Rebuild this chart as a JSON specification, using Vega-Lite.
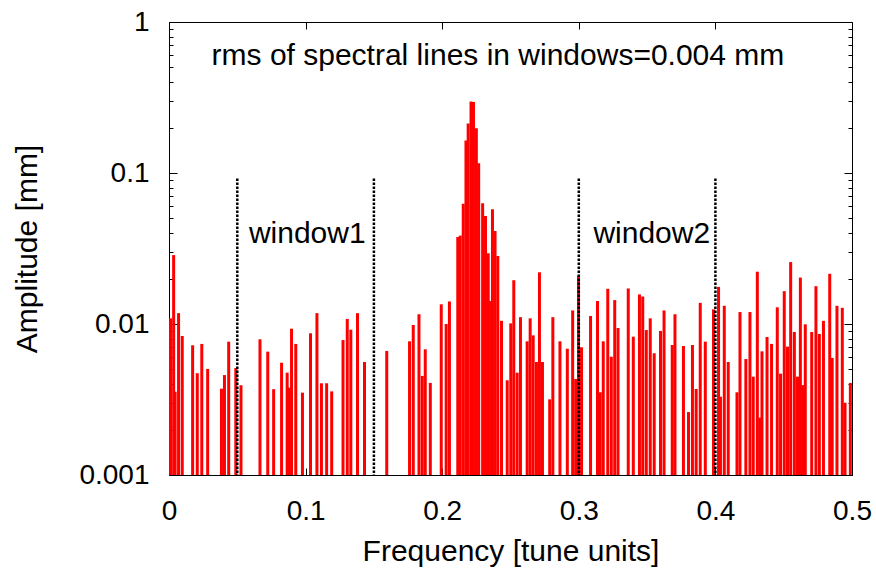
{
  "$schema": "https://vega.github.io/schema/vega-lite/v6.json",
  "width": 683,
  "height": 453,
  "autosize": {"type": "none"},
  "padding": {"left": 169, "top": 22, "right": 24, "bottom": 93},
  "background": "white",
  "config": {
    "font": "Liberation Sans",
    "view": {"stroke": "black", "strokeWidth": 1},
    "axis": {
      "domain": false,
      "grid": false,
      "tickColor": "black",
      "tickWidth": 1,
      "labelColor": "black",
      "labelFontSize": 28,
      "labelFont": "Liberation Sans",
      "titleFont": "Liberation Sans",
      "titleFontSize": 30,
      "titleFontWeight": "normal",
      "titleColor": "black",
      "labelFlush": false,
      "labelOverlap": false
    }
  },
  "datasets": {
    "bars": [
      {"f":0.0011,"v":0.0109},{"f":0.0034,"v":0.0286},{"f":0.0045,"v":0.00356},{"f":0.0070,"v":0.0118},{"f":0.0097,"v":0.00833},
      {"f":0.0173,"v":0.00723},{"f":0.0207,"v":0.00472},{"f":0.0240,"v":0.00738},{"f":0.0283,"v":0.00504},{"f":0.0384,"v":0.00373},
      {"f":0.0406,"v":0.00459},{"f":0.0437,"v":0.00764},{"f":0.0489,"v":0.00511},{"f":0.0527,"v":0.00393},{"f":0.0666,"v":0.00792},
      {"f":0.0723,"v":0.00656},{"f":0.0766,"v":0.0037},{"f":0.0824,"v":0.00554},{"f":0.0865,"v":0.00476},{"f":0.0881,"v":0.00379},
      {"f":0.0897,"v":0.00931},{"f":0.0928,"v":0.00738},{"f":0.0977,"v":0.00351},{"f":0.1036,"v":0.00868},{"f":0.1083,"v":0.0118},
      {"f":0.1116,"v":0.00405},{"f":0.1154,"v":0.00405},{"f":0.1191,"v":0.00358},{"f":0.1274,"v":0.00783},{"f":0.1305,"v":0.0108},
      {"f":0.1331,"v":0.00917},{"f":0.138,"v":0.0118},{"f":0.1431,"v":0.0056},{"f":0.1594,"v":0.00663},{"f":0.1761,"v":0.00768},
      {"f":0.1788,"v":0.00985},{"f":0.183,"v":0.0116},{"f":0.1854,"v":0.00453},{"f":0.1876,"v":0.0068},{"f":0.1913,"v":0.00407},
      {"f":0.1993,"v":0.0135},{"f":0.2029,"v":0.01},{"f":0.2053,"v":0.0141},{"f":0.2114,"v":0.0377},{"f":0.2132,"v":0.0385},
      {"f":0.2154,"v":0.0626},{"f":0.2174,"v":0.164},{"f":0.219,"v":0.213},{"f":0.2211,"v":0.297},{"f":0.2229,"v":0.295},
      {"f":0.225,"v":0.198},{"f":0.2267,"v":0.116},{"f":0.2296,"v":0.063},{"f":0.2317,"v":0.0519},{"f":0.2337,"v":0.0294},
      {"f":0.2354,"v":0.0142},{"f":0.2368,"v":0.0575},{"f":0.2387,"v":0.0413},{"f":0.2407,"v":0.0282},{"f":0.2434,"v":0.0105},
      {"f":0.2476,"v":0.00424},{"f":0.2502,"v":0.0101},{"f":0.2524,"v":0.0195},{"f":0.2549,"v":0.00476},{"f":0.2573,"v":0.0111},
      {"f":0.2622,"v":0.00768},{"f":0.2644,"v":0.0109},{"f":0.2666,"v":0.00841},{"f":0.269,"v":0.0056},{"f":0.2712,"v":0.022},
      {"f":0.2734,"v":0.0056},{"f":0.2787,"v":0.00317},{"f":0.281,"v":0.0111},{"f":0.2862,"v":0.00768},{"f":0.2916,"v":0.00686},
      {"f":0.2955,"v":0.0123},{"f":0.2977,"v":0.00432},{"f":0.2998,"v":0.0209},{"f":0.302,"v":0.00701},{"f":0.3086,"v":0.0113},
      {"f":0.3137,"v":0.0142},{"f":0.3157,"v":0.00353},{"f":0.3179,"v":0.00768},{"f":0.3212,"v":0.0171},{"f":0.3238,"v":0.00607},
      {"f":0.3263,"v":0.0144},{"f":0.3287,"v":0.00941},{"f":0.3362,"v":0.0172},{"f":0.3399,"v":0.00824},{"f":0.3444,"v":0.0157},
      {"f":0.3468,"v":0.0152},{"f":0.3494,"v":0.00912},{"f":0.3523,"v":0.0109},{"f":0.3552,"v":0.0064},{"f":0.3598,"v":0.00899},
      {"f":0.3624,"v":0.0123},{"f":0.3684,"v":0.00726},{"f":0.3704,"v":0.0116},{"f":0.3766,"v":0.00715},{"f":0.3803,"v":0.00261},
      {"f":0.3832,"v":0.00726},{"f":0.3859,"v":0.00371},{"f":0.3889,"v":0.0138},{"f":0.3926,"v":0.00764},{"f":0.3986,"v":0.0125},
      {"f":0.4023,"v":0.0176},{"f":0.4037,"v":0.0033},{"f":0.4065,"v":0.0132},{"f":0.4094,"v":0.0056},{"f":0.4158,"v":0.00353},
      {"f":0.418,"v":0.012},{"f":0.4223,"v":0.00586},{"f":0.4253,"v":0.012},{"f":0.4277,"v":0.00448},{"f":0.4307,"v":0.0222},
      {"f":0.4325,"v":0.0024},{"f":0.4341,"v":0.00659},{"f":0.4378,"v":0.0082},{"f":0.4411,"v":0.00738},{"f":0.4453,"v":0.0129},
      {"f":0.4477,"v":0.00469},{"f":0.4504,"v":0.0165},{"f":0.4528,"v":0.00708},{"f":0.4551,"v":0.0257},{"f":0.4578,"v":0.00885},
      {"f":0.4601,"v":0.00448},{"f":0.4622,"v":0.0203},{"f":0.4639,"v":0.00394},{"f":0.4658,"v":0.00995},{"f":0.4705,"v":0.00885},
      {"f":0.4736,"v":0.0178},{"f":0.4761,"v":0.00859},{"f":0.4791,"v":0.0105},{"f":0.4837,"v":0.0215},{"f":0.4855,"v":0.00596},
      {"f":0.489,"v":0.0132},{"f":0.4929,"v":0.0128},{"f":0.4949,"v":0.00301},{"f":0.4988,"v":0.00407}
    ],
    "windows": [
      {"f":0.05,"v":0.092},{"f":0.15,"v":0.092},{"f":0.3,"v":0.092},{"f":0.4,"v":0.092}
    ],
    "labels": [
      {"f":0.2408,"v":0.519,"label":"rms of spectral lines in windows=0.004 mm"},
      {"f":0.1012,"v":0.0342,"label":"window1"},
      {"f":0.3534,"v":0.0342,"label":"window2"}
    ]
  },
  "resolve": {"axis": {"x": "independent", "y": "independent"}},
  "layer": [
    {
      "data": {"name": "bars"},
      "mark": {"type": "rule", "color": "#ff0000", "strokeWidth": 3},
      "encoding": {
        "x": {
          "field": "f", "type": "quantitative",
          "scale": {"domain": [0, 0.5], "nice": false, "zero": false},
          "axis": {
            "orient": "bottom",
            "values": [0, 0.1, 0.2, 0.3, 0.4, 0.5],
            "format": "~g",
            "tickSize": -7,
            "labelPadding": 29,
            "title": "Frequency [tune units]",
            "titlePadding": 11
          }
        },
        "y": {
          "field": "v", "type": "quantitative",
          "scale": {"type": "log", "domain": [0.001, 1], "nice": false},
          "axis": {
            "orient": "left",
            "values": [0.001,0.002,0.003,0.004,0.005,0.006,0.007,0.008,0.009,0.01,0.02,0.03,0.04,0.05,0.06,0.07,0.08,0.09,0.1,0.2,0.3,0.4,0.5,0.6,0.7,0.8,0.9,1],
            "format": "~g",
            "labelExpr": "indexof([0.001,0.01,0.1,1], datum.value) >= 0 ? datum.label : ''",
            "tickSize": {"condition": {"test": "indexof([0.001,0.01,0.1,1], datum.value) >= 0", "value": -8}, "value": -4},
            "labelPadding": 28,
            "title": "Amplitude [mm]",
            "titlePadding": 36
          }
        },
        "y2": {"datum": 0.001}
      }
    },
    {
      "data": {"name": "windows"},
      "mark": {"type": "rule", "color": "black", "strokeWidth": 2.5, "strokeDash": [2.5, 1.5]},
      "encoding": {
        "x": {
          "field": "f", "type": "quantitative",
          "axis": {
            "orient": "top",
            "values": [0, 0.1, 0.2, 0.3, 0.4, 0.5],
            "labels": false,
            "tickSize": -7,
            "title": null
          }
        },
        "y": {
          "field": "v", "type": "quantitative",
          "axis": {
            "orient": "right",
            "values": [0.001,0.002,0.003,0.004,0.005,0.006,0.007,0.008,0.009,0.01,0.02,0.03,0.04,0.05,0.06,0.07,0.08,0.09,0.1,0.2,0.3,0.4,0.5,0.6,0.7,0.8,0.9,1],
            "labels": false,
            "tickSize": {"condition": {"test": "indexof([0.001,0.01,0.1,1], datum.value) >= 0", "value": -8}, "value": -4},
            "title": null
          }
        },
        "y2": {"datum": 0.001}
      }
    },
    {
      "data": {"name": "labels"},
      "mark": {"type": "text", "fontSize": 30, "font": "Liberation Sans", "color": "black", "align": "center", "baseline": "alphabetic"},
      "encoding": {
        "x": {"field": "f", "type": "quantitative", "axis": null},
        "y": {"field": "v", "type": "quantitative", "axis": null},
        "text": {"field": "label"}
      }
    }
  ]
}
